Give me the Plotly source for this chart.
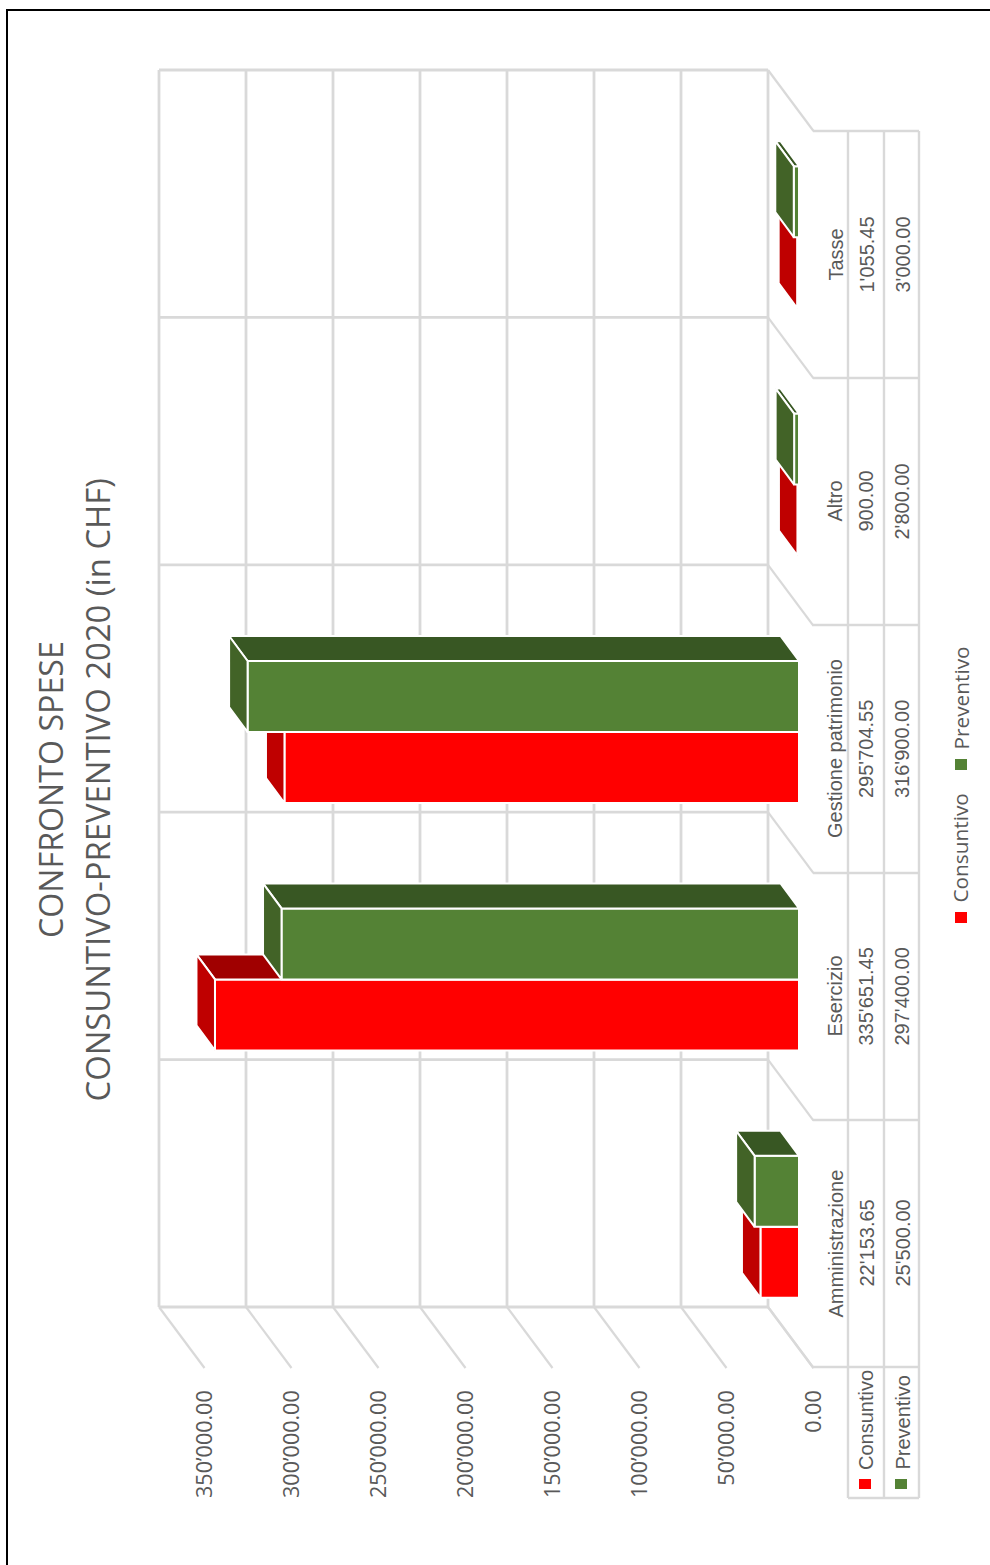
import plotly.graph_objects as go

# ---- data ----
categories = ["Amministrazione", "Esercizio", "Gestione patrimonio", "Altro", "Tasse"]
consuntivo = [22153.65, 335651.45, 295704.55, 900.00, 1055.45]
preventivo = [25500.00, 297400.00, 316900.00, 2800.00, 3000.00]
tick_values = [0, 50000, 100000, 150000, 200000, 250000, 300000, 350000]
tick_labels = ["0.00", "50’000.00", "100’000.00", "150’000.00", "200’000.00",
               "250’000.00", "300’000.00", "350’000.00"]
title_lines = ["CONFRONTO SPESE", "CONSUNTIVO-PREVENTIVO 2020 (in CHF)"]

# ---- geometry of the projected chart (pixels) ----
W, H = 990, 1565
K = 87 / 50000            # px per CHF
BAND = 247.4              # px per category
WALL_X0, WALL_Y0 = 768, 1307
FLOOR_X = 813             # front edge of floor
DEPTH_DX, DEPTH_DY = 45.5, 61
BAR_FRONT_PX = 31         # bar front plane in front of the back wall
BAR_SHIFT_PY = 43.5
BAR_H = 71
BAR_DX, BAR_DY = 18.5, 25

GRID = "#d9d9d9"
TXT = "#595959"
NARROW = "Liberation Sans Narrow, Liberation Sans, sans-serif"
OPEN = "Open Sans, sans-serif"


def px(x):
    return x / W


def py(y):
    return 1 - y / H


fmt = lambda v: f"{v:,.2f}".replace(",", "'")

front_v = -BAR_FRONT_PX / K
dv = BAR_DX / K
dc = BAR_DY / BAND
half = BAR_H / BAND
centre = [i + 0.5 - BAR_SHIFT_PY / BAND for i in range(len(categories))]

fig = go.Figure()
EDGE = dict(color="white", width=2)


def add_series(name, values, colour, end_col, top_col, y_positions, xa, ya):
    fig.add_trace(go.Bar(
        name=name, orientation="h", x=values, y=y_positions,
        base=[front_v] * len(values), width=half,
        marker=dict(color=colour, line=EDGE),
        xaxis=xa, yaxis=ya, hoverinfo="skip", showlegend=False))
    for v, yc in zip(values, y_positions):
        end = front_v + v
        y0, y1 = yc - half / 2, yc + half / 2
        # top (rear-facing) face along the bar
        fig.add_trace(go.Scatter(
            x=[front_v, end, end + dv, front_v + dv, front_v],
            y=[y1, y1, y1 + dc, y1 + dc, y1],
            mode="lines", fill="toself", fillcolor=top_col, line=EDGE,
            xaxis=xa, yaxis=ya, hoverinfo="skip", showlegend=False))
        # end cap
        fig.add_trace(go.Scatter(
            x=[end, end, end + dv, end + dv, end],
            y=[y0, y1, y1 + dc, y0 + dc, y0],
            mode="lines", fill="toself", fillcolor=end_col, line=EDGE,
            xaxis=xa, yaxis=ya, hoverinfo="skip", showlegend=False))


add_series("Consuntivo", consuntivo, "#ff0000", "#bf0000", "#a00000",
           [c - half / 2 for c in centre], "x", "y")
add_series("Preventivo", preventivo, "#548235", "#426327", "#385723",
           [c + half / 2 for c in centre], "x2", "y2")

# carrier for the value axis, which sits on the front plane
fig.add_trace(go.Scatter(x=tick_values, y=[0] * len(tick_values), mode="lines",
                         line=dict(width=0), xaxis="x3", yaxis="y",
                         hoverinfo="skip", showlegend=False))

x_range = [WALL_X0 / K, (WALL_X0 - W) / K]
y_range = [(WALL_Y0 - H) / BAND, WALL_Y0 / BAND]
hidden = dict(visible=False, showgrid=False, zeroline=False, fixedrange=True)

shapes = []
n = len(categories)
dvw = DEPTH_DX / K
dcw = DEPTH_DY / BAND


def grid_line(x0, y0, x1, y1, width=2.8):
    shapes.append(dict(type="line", xref="x", yref="y", x0=x0, y0=y0, x1=x1, y1=y1,
                       layer="below", line=dict(color=GRID, width=width)))


for t in tick_values:
    grid_line(t, 0, t, n)                    # back wall
    grid_line(t, 0, t - dvw, -dcw, 2.2)      # side wall
for i in range(n + 1):
    grid_line(0, i, tick_values[-1], i)      # back wall
    grid_line(0, i, -dvw, i - dcw, 2.2)      # floor


def paper_line(x0, y0, x1, y1, colour=GRID, width=2.4):
    shapes.append(dict(type="line", xref="paper", yref="paper",
                       x0=px(x0), y0=py(y0), x1=px(x1), y1=py(y1),
                       layer="below", line=dict(color=colour, width=width)))


TBL_X = [FLOOR_X, 848, 884, 919]
ROW_Y = [131, 378, 625, 873, 1120, 1367]
for ry in ROW_Y:
    paper_line(TBL_X[0], ry, TBL_X[3], ry)
for tx in TBL_X[1:]:
    paper_line(tx, 131, tx, 1498)
paper_line(TBL_X[1], 1498, TBL_X[3], 1498)

# outer frame
shapes.append(dict(type="rect", xref="paper", yref="paper",
                   x0=px(7), y0=py(1600), x1=px(1030), y1=py(10),
                   layer="below", line=dict(color="black", width=2)))


def square(x0, y0, x1, y1, colour):
    shapes.append(dict(type="rect", xref="paper", yref="paper",
                       x0=px(x0), y0=py(y0), x1=px(x1), y1=py(y1),
                       fillcolor=colour, line=dict(width=0), layer="above"))


square(859, 1479, 871, 1489, "#ff0000")
square(895, 1479, 907, 1489, "#548235")
square(955, 912, 967, 923, "#ff0000")
square(955, 759, 967, 770, "#548235")

ann = []


def text(s, x, y, size, family=OPEN, yanchor="middle", colour=TXT):
    ann.append(dict(text=s, xref="paper", yref="paper", x=px(x), y=py(y),
                    textangle=-90, showarrow=False, xanchor="center", yanchor=yanchor,
                    font=dict(size=size, family=family, color=colour)))


text(title_lines[0], 50, 790, 32.2)
text(title_lines[1], 97, 790.5, 32.8)

for i, cat in enumerate(categories):
    yc = (ROW_Y[4 - i] + ROW_Y[5 - i]) / 2
    text(cat, 835, yc, 20, NARROW)
    text(fmt(consuntivo[i]), 866, yc, 20, NARROW)
    text(fmt(preventivo[i]), 902, yc, 20, NARROW)

text("Consuntivo", 866, 1472, 20, NARROW, "bottom")
text("Preventivo", 902, 1472, 20, NARROW, "bottom")
text("Consuntivo", 960, 905, 20.8, OPEN, "bottom")
text("Preventivo", 960, 752, 20.8, OPEN, "bottom")

fig.update_layout(
    width=W, height=H, margin=dict(l=0, r=0, t=0, b=0),
    paper_bgcolor="white", plot_bgcolor="white", showlegend=False,
    barmode="overlay", shapes=shapes, annotations=ann,
    xaxis=dict(range=x_range, domain=[0, 1], **hidden),
    yaxis=dict(range=y_range, domain=[0, 1], **hidden),
    xaxis2=dict(range=x_range, overlaying="x", anchor="y2", **hidden),
    yaxis2=dict(range=y_range, overlaying="y", anchor="x2", **hidden),
    xaxis3=dict(range=[(FLOOR_X + 1.5) / K, (FLOOR_X + 1.5 - W) / K], overlaying="x", anchor="free",
                position=py(1385), side="bottom", showgrid=False, zeroline=False,
                showline=False, ticks="", tickmode="array", tickvals=tick_values,
                ticktext=tick_labels, tickangle=-90, fixedrange=True,
                tickfont=dict(size=21.5, family=OPEN, color=TXT)),
)

fig.write_html("out.html", config={"displayModeBar": False},
               post_script="document.body.style.margin='0';document.body.style.overflow='hidden';")
